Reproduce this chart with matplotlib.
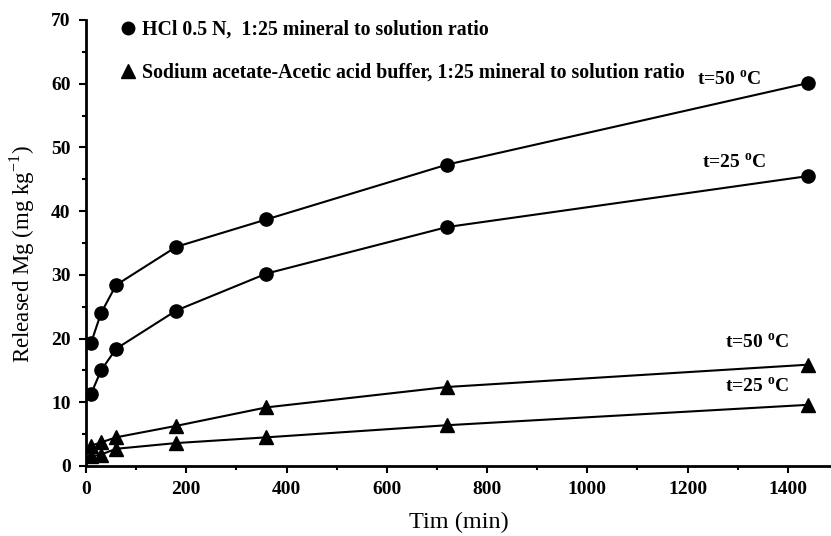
import matplotlib
matplotlib.use("Agg")
import matplotlib.pyplot as plt
from matplotlib.lines import Line2D
from matplotlib.ticker import MultipleLocator

plt.rcParams['font.family'] = ['Liberation Serif', 'DejaVu Serif']
plt.rcParams['mathtext.fontset'] = 'custom'
plt.rcParams['mathtext.rm'] = 'Liberation Serif'
plt.rcParams['mathtext.bf'] = 'Liberation Serif:bold'

time_min = [10, 30, 60, 180, 360, 720, 1440]
hcl_50 = [19.3, 24.0, 28.4, 34.4, 38.7, 47.3, 60.1]
hcl_25 = [11.3, 15.0, 18.4, 24.4, 30.2, 37.5, 45.5]
buf_50 = [3.2, 3.7, 4.5, 6.3, 9.2, 12.4, 15.9]
buf_25 = [1.5, 1.8, 2.7, 3.6, 4.5, 6.4, 9.6]

label_pos = [(1283, 60.6, 't=50'), (1293, 47.6, 't=25'),
             (1339, 19.3, 't=50'), (1339, 12.4, 't=25')]

fig = plt.figure(figsize=(8.31, 5.36), dpi=100)
ax = fig.add_axes([0.1035, 0.1306, 0.8965, 0.8321])

for ys in (hcl_50, hcl_25):
    ax.plot(time_min, ys, color='black', lw=1.5, marker='o', ms=9.5)
for ys in (buf_50, buf_25):
    ax.plot(time_min, ys, color='black', lw=1.5, marker='^', ms=9.5)

for x, y, t in label_pos:
    ax.text(x, y, t + r' $^{\mathbf{o}}$C', ha='center', va='center',
            fontsize=14, fontweight='bold')

ax.set_xlim(0, 1486)
ax.set_ylim(0, 70)
ax.xaxis.set_major_locator(MultipleLocator(200))
ax.xaxis.set_minor_locator(MultipleLocator(100))
ax.yaxis.set_major_locator(MultipleLocator(10))
ax.yaxis.set_minor_locator(MultipleLocator(5))
ax.spines['top'].set_visible(False)
ax.spines['right'].set_visible(False)
for s in ('left', 'bottom'):
    ax.spines[s].set_linewidth(2)
ax.tick_params(which='major', direction='out', length=5, width=1.5,
               labelsize=14, pad=6)
ax.tick_params(which='minor', direction='out', length=3, width=1.5)
for lab in ax.get_xticklabels() + ax.get_yticklabels():
    lab.set_fontweight('bold')

ax.set_xlabel('Tim (min)', fontsize=17.5, labelpad=10)
ax.set_ylabel(r'Released Mg (mg kg$^{\mathrm{-1}}$)', fontsize=16.5)
ax.yaxis.set_label_coords(-0.066, 0.475)

handles = [Line2D([], [], color='black', marker='o', ls='none', ms=9),
           Line2D([], [], color='black', marker='^', ls='none', ms=10)]
labels = ['HCl 0.5 N,  1:25 mineral to solution ratio',
          'Sodium acetate-Acetic acid buffer, 1:25 mineral to solution ratio']
ax.legend(handles, labels, loc='upper left', bbox_to_anchor=(0.025, 1.04),
          frameon=False, handlelength=0.6, handletextpad=0.4,
          labelspacing=1.15, prop={'weight': 'bold', 'size': 14.3})

fig.savefig('out.png', dpi=100)
